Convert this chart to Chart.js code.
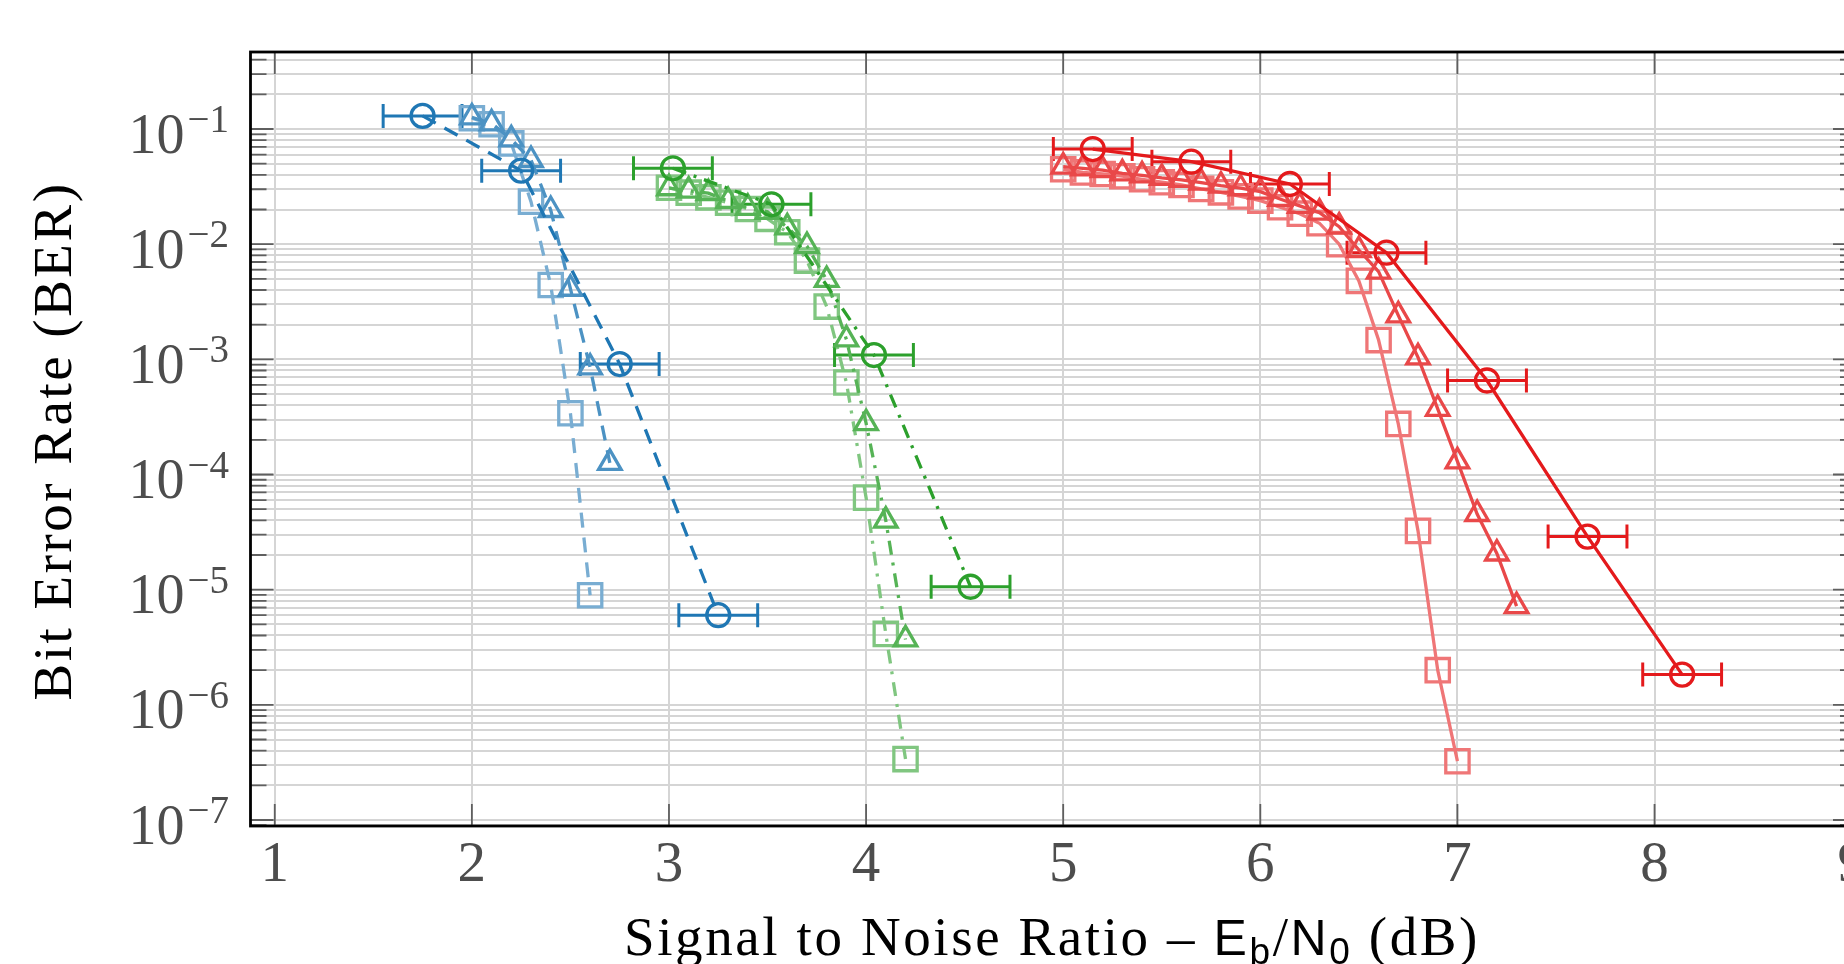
<!DOCTYPE html>
<html>
<head>
<meta charset="utf-8">
<script src="https://cdn.jsdelivr.net/npm/chart.js@4.4.1/dist/chart.umd.min.js"></script>
<style>
html,body{margin:0;padding:0;background:#fff;overflow:hidden;width:1844px;height:964px}
canvas{display:block}
</style>
</head>
<body>
<canvas id="c" width="1880" height="964" style="width:1880px;height:964px"></canvas>
<script>
// ---------------- data ----------------
const xTickValues = [1, 2, 3, 4, 5, 6, 7, 8, 9];
const yDecades = [-7, -6, -5, -4, -3, -2, -1];
const xTitleParts = ['Signal to Noise Ratio – ', 'E', 'b', '/', 'N', '0', ' (dB)'];
const yTitle = 'Bit Error Rate (BER)';

const snrBlueCirc = [1.75, 2.25, 2.75, 3.25];
const berBlueCirc = [0.13, 0.0435, 9.1e-4, 6.0e-6];
const errBlueCirc = [0.2, 0.2, 0.2, 0.2];
const snrBlueTri = [2.0, 2.1, 2.2, 2.3, 2.4, 2.5, 2.6, 2.7];
const berBlueTri = [0.126, 0.112, 0.0814, 0.0538, 0.0198, 0.0041, 8.5e-4, 1.26e-4];
const snrBlueSq = [2.0, 2.1, 2.2, 2.3, 2.4, 2.5, 2.6];
const berBlueSq = [0.124, 0.11, 0.075, 0.0234, 0.00442, 3.4e-4, 8.95e-6];

const snrGreenCirc = [3.02, 3.52, 4.04, 4.53];
const berGreenCirc = [0.0456, 0.0222, 1.09e-3, 1.06e-5];
const errGreenCirc = [0.2, 0.2, 0.2, 0.2];
const snrGreenTri = [3.0, 3.1, 3.2, 3.3, 3.4, 3.5, 3.6, 3.7, 3.8, 3.9, 4.0, 4.1, 4.2];
const berGreenTri = [0.0306, 0.0292, 0.0277, 0.0237, 0.0207, 0.0191, 0.014, 0.00964, 0.00489, 0.00149, 2.79e-4, 3.98e-5, 3.7e-6];
const snrGreenSq = [3.0, 3.1, 3.2, 3.3, 3.4, 3.5, 3.6, 3.7, 3.8, 3.9, 4.0, 4.1, 4.2];
const berGreenSq = [0.0309, 0.028, 0.0255, 0.0229, 0.0202, 0.0166, 0.0127, 0.0072, 0.00287, 6.3e-4, 6.3e-5, 4.13e-6, 3.38e-7];

const snrRedCirc = [5.15, 5.65, 6.15, 6.64, 7.15, 7.66, 8.14];
const berRedCirc = [0.067, 0.052, 0.0333, 0.00843, 6.55e-4, 2.89e-5, 1.83e-6];
const errRedCirc = [0.2, 0.2, 0.2, 0.2, 0.2, 0.2, 0.2];
const snrRedTri = [5.0, 5.1, 5.2, 5.3, 5.4, 5.5, 5.6, 5.7, 5.8, 5.9, 6.0, 6.1, 6.2, 6.3, 6.4, 6.5, 6.6, 6.7, 6.8, 6.9, 7.0, 7.1, 7.2, 7.3];
const berRedTri = [0.0471, 0.0456, 0.044, 0.0412, 0.0396, 0.0376, 0.0361, 0.0342, 0.0322, 0.0306, 0.0286, 0.0247, 0.0215, 0.0188, 0.0142, 0.0089, 0.00577, 0.00241, 1.04e-3, 3.72e-4, 1.30e-4, 4.54e-5, 2.06e-5, 7.2e-6];
const snrRedSq = [5.0, 5.1, 5.2, 5.3, 5.4, 5.5, 5.6, 5.7, 5.8, 5.9, 6.0, 6.1, 6.2, 6.3, 6.4, 6.5, 6.6, 6.7, 6.8, 6.9, 7.0];
const berRedSq = [0.0447, 0.042, 0.0407, 0.0389, 0.0366, 0.0345, 0.0327, 0.0302, 0.0282, 0.026, 0.0239, 0.0209, 0.0184, 0.0152, 0.01, 0.0048, 1.47e-3, 2.75e-4, 3.24e-5, 2.0e-6, 3.24e-7];

// ---------------- styles ----------------
const X_MIN = 0.877, X_MAX = 9.022;
const Y_MIN = 8.87e-8, Y_MAX = 0.4663;
const SERIF = '"Liberation Serif","DejaVu Serif",serif';
const SANS = '"Liberation Sans","DejaVu Sans",sans-serif';

const C = {
  blueC: '#1f77b4', blueT: 'rgb(76,146,195)', blueS: 'rgb(121,173,210)',
  greenC: '#2ca02c', greenT: 'rgb(86,179,86)', greenS: 'rgb(128,198,128)',
  redC: '#e41a1c', redT: 'rgb(233,72,73)', redS: 'rgb(239,118,119)'
};
const DASH = [15, 10];
const DASHDOT = [14, 8, 3, 8];
const SOLID = [];
const LW = 3.3;

function pts(xs, ys) { return xs.map((v, i) => ({ x: v, y: ys[i] })); }
function series(label, xs, ys, color, style, radius, dash) {
  return {
    label, data: pts(xs, ys),
    borderColor: color, backgroundColor: 'rgba(0,0,0,0)',
    borderWidth: LW, borderDash: dash, tension: 0, fill: false,
    pointStyle: style, pointRadius: radius, pointHoverRadius: radius,
    pointBorderWidth: LW, pointHoverBorderWidth: LW,
    pointBorderColor: color, pointBackgroundColor: 'rgba(0,0,0,0)'
  };
}

const datasets = [
  series('Blue ○', snrBlueCirc, berBlueCirc, C.blueC, 'circle', 11.5, DASH),
  series('Blue △', snrBlueTri, berBlueTri, C.blueT, 'triangle', 13, DASH),
  series('Blue □', snrBlueSq, berBlueSq, C.blueS, 'rect', 16.5, DASH),
  series('Green ○', snrGreenCirc, berGreenCirc, C.greenC, 'circle', 11.5, DASHDOT),
  series('Green △', snrGreenTri, berGreenTri, C.greenT, 'triangle', 13, DASHDOT),
  series('Green □', snrGreenSq, berGreenSq, C.greenS, 'rect', 16.5, DASHDOT),
  series('Red ○', snrRedCirc, berRedCirc, C.redC, 'circle', 11.5, SOLID),
  series('Red △', snrRedTri, berRedTri, C.redT, 'triangle', 13, SOLID),
  series('Red □', snrRedSq, berRedSq, C.redS, 'rect', 16.5, SOLID)
];

const errorSeries = [
  { x: snrBlueCirc, y: berBlueCirc, err: errBlueCirc, color: C.blueC },
  { x: snrGreenCirc, y: berGreenCirc, err: errGreenCirc, color: C.greenC },
  { x: snrRedCirc, y: berRedCirc, err: errRedCirc, color: C.redC }
];

function line(ctx, x1, y1, x2, y2) { ctx.moveTo(x1, y1); ctx.lineTo(x2, y2); }

const axisDecor = {
  id: 'axisDecor',
  beforeDatasetsDraw(chart) {
    const { ctx, chartArea: a, scales: { x, y } } = chart;
    ctx.save();
    ctx.beginPath(); ctx.rect(a.left, a.top, a.right - a.left, a.bottom - a.top); ctx.clip();
    ctx.lineWidth = 3;
    ctx.setLineDash([]);
    errorSeries.forEach(s => {
      ctx.strokeStyle = s.color;
      ctx.beginPath();
      s.x.forEach((xv, i) => {
        const py = y.getPixelForValue(s.y[i]);
        const xl = x.getPixelForValue(xv - s.err[i]);
        const xr = x.getPixelForValue(xv + s.err[i]);
        line(ctx, xl, py, xr, py);
        line(ctx, xl, py - 12, xl, py + 12);
        line(ctx, xr, py - 12, xr, py + 12);
      });
      ctx.stroke();
    });
    ctx.restore();
  },
  afterDraw(chart) {
    const { ctx, chartArea: a, scales: { x, y } } = chart;
    ctx.save();
    ctx.setLineDash([]);
    // tick marks (inside)
    ctx.strokeStyle = '#5f5f5f';
    ctx.lineWidth = 1.8;
    ctx.beginPath();
    y.ticks.forEach(t => {
      const py = y.getPixelForValue(t.value);
      const len = t.major ? 23 : 16;
      line(ctx, a.left, py, a.left + len, py);
      line(ctx, a.right, py, a.right - len, py);
    });
    xTickValues.forEach(v => {
      const px = x.getPixelForValue(v);
      line(ctx, px, a.bottom, px, a.bottom - 22);
      line(ctx, px, a.top, px, a.top + 22);
    });
    ctx.stroke();
    // frame
    ctx.strokeStyle = '#000';
    ctx.lineWidth = 2.8;
    ctx.strokeRect(a.left, a.top, a.right - a.left, a.bottom - a.top);

    // y tick labels 10^n
    ctx.fillStyle = '#4d4d4d';
    ctx.textBaseline = 'alphabetic';
    const labRight = 229;
    yDecades.forEach(e => {
      const py = y.getPixelForValue(Math.pow(10, e));
      const expText = '\u2212' + Math.abs(e);
      ctx.font = '39px ' + SERIF;
      const w2 = ctx.measureText(expText).width;
      ctx.textAlign = 'left';
      ctx.fillText(expText, labRight - w2, py + 3);
      ctx.font = '56px ' + SERIF;
      ctx.textAlign = 'right';
      ctx.fillText('10', labRight - w2 - 3, py + 23.5);
    });
    // x tick labels
    ctx.font = '57px ' + SERIF;
    ctx.textAlign = 'center';
    xTickValues.forEach(v => {
      ctx.fillText(String(v), x.getPixelForValue(v), 881);
    });

    // y title
    ctx.fillStyle = '#000';
    ctx.save();
    ctx.translate(71, 441);
    ctx.rotate(-Math.PI / 2);
    ctx.font = '55px ' + SERIF;
    ctx.letterSpacing = '2.5px';
    ctx.textAlign = 'center';
    ctx.fillText(yTitle, 0, 0);
    ctx.restore();

    // x title with sub-scripts
    const fonts = [
      ['55px ' + SERIF, 0], ['50px ' + SANS, 0], ['37px ' + SANS, 9],
      ['55px ' + SERIF, 0], ['50px ' + SANS, 0], ['37px ' + SANS, 9],
      ['55px ' + SERIF, 0]
    ];
    ctx.letterSpacing = '2.6px';
    ctx.textAlign = 'left';
    const widths = xTitleParts.map((p, i) => { ctx.font = fonts[i][0]; return ctx.measureText(p).width; });
    const total = widths.reduce((s, w) => s + w, 0);
    let cx = 1052 - total / 2;
    xTitleParts.forEach((p, i) => {
      ctx.font = fonts[i][0];
      ctx.fillText(p, cx, 955 + fonts[i][1]);
      cx += widths[i];
    });
    ctx.restore();
  }
};

function logTicks() {
  const out = [];
  for (let e = -8; e <= 0; e++) {
    for (let m = 1; m <= 9; m++) {
      const v = m * Math.pow(10, e);
      if (v >= Y_MIN && v <= Y_MAX) out.push({ value: v, major: m === 1 });
    }
  }
  return out;
}

new Chart(document.getElementById('c'), {
  type: 'line',
  data: { datasets },
  options: {
    responsive: false,
    animation: false,
    events: [],
    layout: { padding: { left: 0, right: 24, top: 52, bottom: 0 } },
    plugins: { legend: { display: false }, tooltip: { enabled: false } },
    scales: {
      x: {
        type: 'linear', min: X_MIN, max: X_MAX,
        afterBuildTicks: s => { s.ticks = xTickValues.map(v => ({ value: v })); },
        afterFit: s => { s.height = 138; },
        ticks: { display: false },
        grid: { color: '#d5d5d5', lineWidth: 2, drawTicks: false },
        border: { display: false }
      },
      y: {
        type: 'logarithmic', min: Y_MIN, max: Y_MAX,
        afterBuildTicks: s => { s.ticks = logTicks(); },
        afterFit: s => { s.width = 250.5; },
        ticks: { display: false },
        grid: { color: '#d5d5d5', lineWidth: 2, drawTicks: false },
        border: { display: false }
      }
    }
  },
  plugins: [axisDecor]
});
</script>
</body>
</html>
